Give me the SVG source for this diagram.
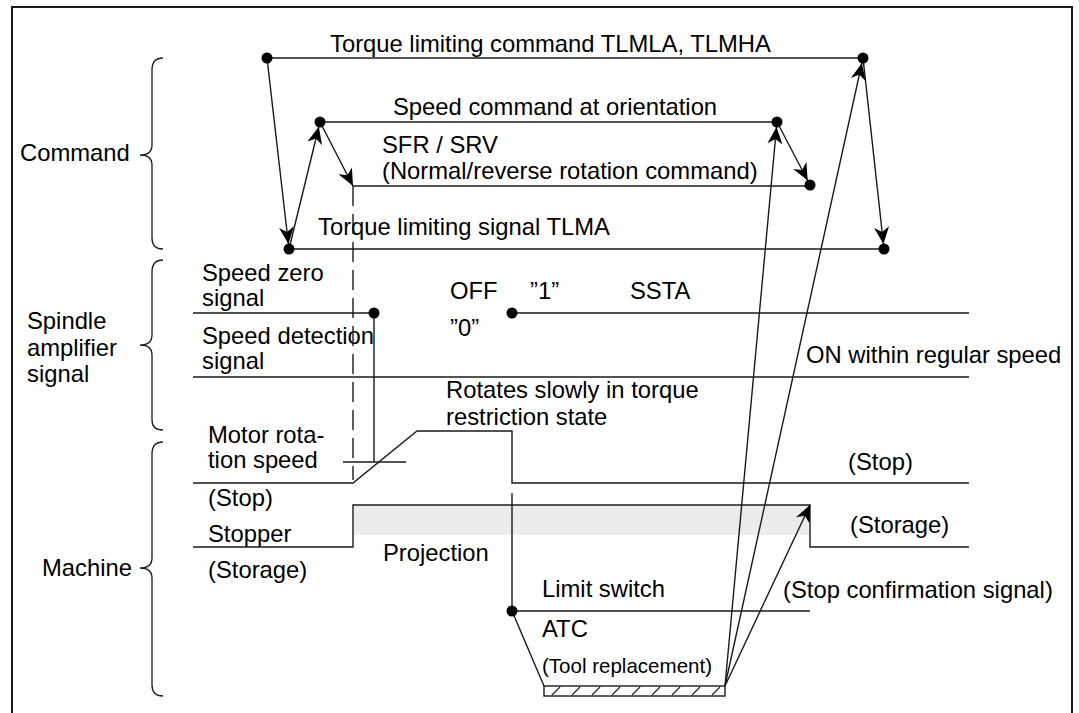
<svg xmlns="http://www.w3.org/2000/svg" width="1079" height="713" viewBox="0 0 1079 713">
<style>
text{font-family:"Liberation Sans",Arial,sans-serif;font-size:23.8px;fill:#000}
.ln{stroke:#1a1a1a;stroke-width:1.4;fill:none}
.br{stroke:#1a1a1a;stroke-width:1.3;fill:none}
.dot{fill:#000}
</style>
<defs>
<marker id="arr" markerUnits="userSpaceOnUse" markerWidth="30" markerHeight="24" refX="22" refY="12" orient="auto" overflow="visible"><path d="M17,12 L0,4.5 L5,12 L0,19.5 Z" fill="#000"/></marker>
<marker id="arr0" markerUnits="userSpaceOnUse" markerWidth="30" markerHeight="24" refX="17" refY="12" orient="auto" overflow="visible"><path d="M17,12 L0,4.5 L5,12 L0,19.5 Z" fill="#000"/></marker>
</defs>
<rect x="12" y="7" width="1060" height="730" fill="#fff" stroke="#1a1a1a" stroke-width="2"/>

<g id="braces">
<path class="br" d="M163,58 Q152,58 152,70 L152,145 Q152,155 140,155 Q152,155 152,165 L152,238 Q152,249 163,249"/>
<path class="br" d="M163,260 Q152,260 152,272 L152,335 Q152,345 140,345 Q152,345 152,355 L152,420 Q152,430 163,430"/>
<path class="br" d="M163,442 Q152,442 152,454 L152,558 Q152,568 140,568 Q152,568 152,578 L152,685 Q152,696 163,696"/>
</g>

<g id="group-labels">
<text x="20" y="161">Command</text>
<text x="27" y="329">Spindle</text>
<text x="27" y="355.5">amplifier</text>
<text x="27" y="382">signal</text>
<text x="42" y="576">Machine</text>
</g>

<g id="command-signals">
<line class="ln" x1="267" y1="58" x2="863" y2="58"/>
<text x="330" y="52">Torque limiting command TLMLA, TLMHA</text>
<line class="ln" x1="320" y1="122" x2="777" y2="122"/>
<text x="393" y="115">Speed command at orientation</text>
<line class="ln" x1="353" y1="186" x2="810" y2="186"/>
<text x="382" y="153">SFR / SRV</text>
<text x="382" y="179">(Normal/reverse rotation command)</text>
<line class="ln" x1="289" y1="249" x2="884" y2="249"/>
<text x="318" y="235">Torque limiting signal TLMA</text>
</g>

<g id="spindle-signals">
<line class="ln" x1="193" y1="313" x2="374" y2="313"/>
<line class="ln" x1="512" y1="313" x2="969" y2="313"/>
<line class="ln" x1="374" y1="313" x2="374" y2="462"/>
<line class="ln" x1="343" y1="462" x2="406" y2="462"/>
<line class="ln" x1="193" y1="377" x2="969" y2="377"/>
<text x="202" y="281">Speed zero</text>
<text x="202" y="306">signal</text>
<text x="202" y="344">Speed detection</text>
<text x="202" y="369">signal</text>
<text x="450" y="299">OFF</text>
<text x="530" y="299">”1”</text>
<text x="630" y="299">SSTA</text>
<text x="450" y="336">”0”</text>
<text x="806" y="363">ON within regular speed</text>
</g>

<g id="motor">
<path class="ln" d="M193,483 L353,483 L417,431 L512,431 L512,483 L969,483"/>
<text x="208" y="443">Motor rota-</text>
<text x="208" y="468">tion speed</text>
<text x="446" y="398">Rotates slowly in torque</text>
<text x="446" y="425">restriction state</text>
<text x="848" y="470">(Stop)</text>
<text x="208" y="506">(Stop)</text>
</g>

<g id="stopper">
<rect x="354" y="506" width="455" height="29" fill="#ececec"/>
<path class="ln" d="M193,547 L353,547 L353,505 L810,505 L810,547 L969,547"/>
<text x="208" y="542">Stopper</text>
<text x="208" y="578">(Storage)</text>
<text x="383" y="561">Projection</text>
<text x="850" y="533">(Storage)</text>
</g>

<g id="limit-switch">
<line class="ln" x1="512" y1="493" x2="512" y2="611"/>
<line class="ln" x1="512" y1="611" x2="810" y2="611"/>
<line class="ln" x1="512" y1="611" x2="544" y2="686"/>
<text x="542" y="597">Limit switch</text>
<text x="783" y="598">(Stop confirmation signal)</text>
<text x="542" y="637">ATC</text>
<text x="542" y="673" style="font-size:21px" textLength="170" lengthAdjust="spacingAndGlyphs">(Tool replacement)</text>
</g>

<g id="atc-block">
<rect x="544" y="686" width="181" height="10" fill="#fff" stroke="#1a1a1a" stroke-width="1.4"/>
<g stroke="#1a1a1a" stroke-width="1.1">
<line x1="552" y1="695" x2="560" y2="687"/>
<line x1="572" y1="695" x2="580" y2="687"/>
<line x1="592" y1="695" x2="600" y2="687"/>
<line x1="612" y1="695" x2="620" y2="687"/>
<line x1="632" y1="695" x2="640" y2="687"/>
<line x1="652" y1="695" x2="660" y2="687"/>
<line x1="672" y1="695" x2="680" y2="687"/>
<line x1="692" y1="695" x2="700" y2="687"/>
<line x1="712" y1="695" x2="720" y2="687"/>
</g>
</g>

<g id="dashed-marker">
<line x1="353" y1="186" x2="353" y2="480" stroke="#1a1a1a" stroke-width="1.4" stroke-dasharray="20,8"/>
</g>

<g id="connectors">
<line class="ln" x1="267" y1="58" x2="289" y2="249" marker-end="url(#arr)"/>
<line class="ln" x1="289" y1="249" x2="320" y2="122" marker-end="url(#arr)"/>
<line class="ln" x1="320" y1="122" x2="353" y2="186" marker-end="url(#arr0)"/>
<line class="ln" x1="777" y1="122" x2="810" y2="185" marker-end="url(#arr)"/>
<line class="ln" x1="863" y1="58" x2="884" y2="249" marker-end="url(#arr)"/>
<line class="ln" x1="725" y1="686" x2="777" y2="122" marker-end="url(#arr)"/>
<line class="ln" x1="725" y1="686" x2="863" y2="58" marker-end="url(#arr)"/>
<line class="ln" x1="725" y1="686" x2="810" y2="505" marker-end="url(#arr0)"/>
</g>

<g id="dots">
<circle class="dot" cx="267" cy="58" r="5.5"/>
<circle class="dot" cx="863" cy="58" r="5.5"/>
<circle class="dot" cx="320" cy="122" r="5.5"/>
<circle class="dot" cx="777" cy="122" r="5.5"/>
<circle class="dot" cx="810" cy="185" r="5.5"/>
<circle class="dot" cx="289" cy="249" r="5.5"/>
<circle class="dot" cx="884" cy="249" r="5.5"/>
<circle class="dot" cx="374" cy="313" r="5.5"/>
<circle class="dot" cx="512" cy="313" r="5.5"/>
<circle class="dot" cx="512" cy="611" r="5.5"/>
</g>
</svg>
